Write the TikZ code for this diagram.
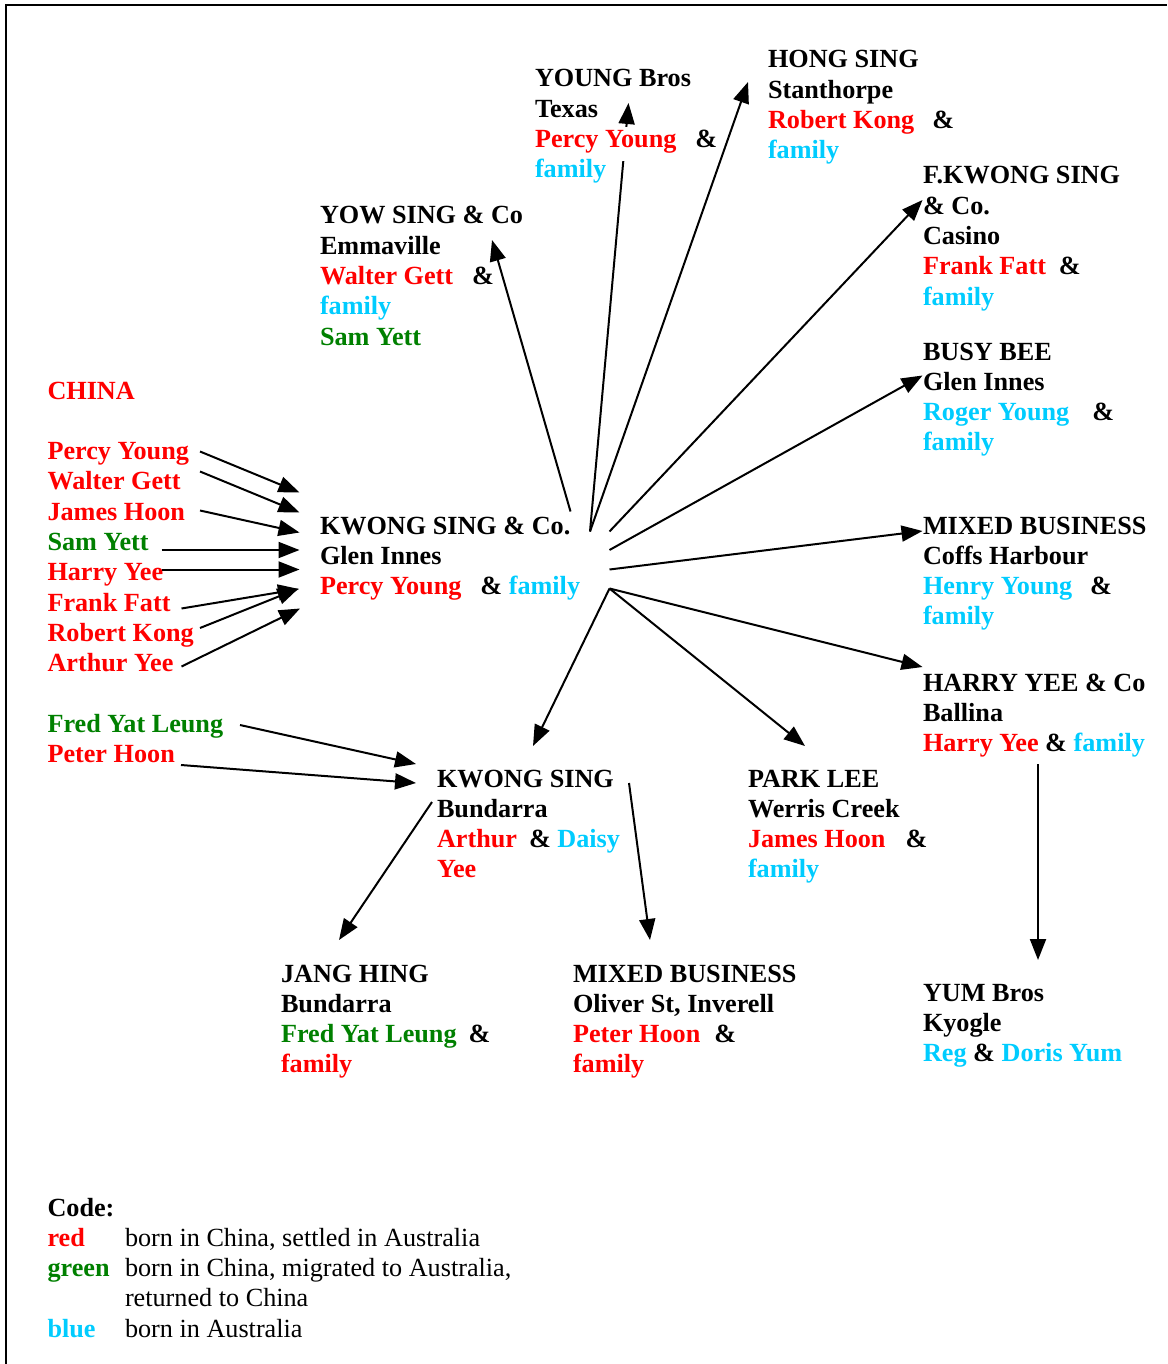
\documentclass[tikz,border=0pt]{standalone}
\usepackage{fontspec}
\setmainfont{Liberation Serif}
\usetikzlibrary{arrows.meta}
\definecolor{cr}{HTML}{FF0000}
\definecolor{cg}{HTML}{008000}
\definecolor{cb}{HTML}{00CCFF}
\newcommand{\R}[1]{\textcolor{cr}{#1}}
\newcommand{\G}[1]{\textcolor{cg}{#1}}
\newcommand{\B}[1]{\textcolor{cb}{#1}}
\newcommand{\gap}[1]{\hspace*{#1pt}}
\begin{document}
\begin{tikzpicture}[x=1pt,y=-1pt,
  txt/.style={anchor=base west, inner sep=0pt, outer sep=0pt,
    font=\bfseries\fontsize{26.2}{30.3}\selectfont},
  arr/.style={line width=2pt, -{Triangle[length=21pt,width=16pt]}},
  frame/.style={line width=2pt}]
\useasboundingbox (0,0) rectangle (1167,1364);
\draw[frame] (6,1364) -- (6,5) -- (1167,5);

% arrow end points
\coordinate (pyS) at (200,451.5);  \coordinate (pyT) at (299.5,492.5);
\coordinate (wgS) at (200,471.5);  \coordinate (wgT) at (299.5,512.5);
\coordinate (jhS) at (200,510.5);  \coordinate (jhT) at (299.5,532.5);
\coordinate (syS) at (161.5,550);  \coordinate (syT) at (299.5,550);
\coordinate (hyS) at (161.5,569.5);\coordinate (hyT) at (299.5,569.5);
\coordinate (ffS) at (181.5,608.5);\coordinate (ffT) at (299,589);
\coordinate (rkS) at (200,628);    \coordinate (rkT) at (298.5,588.5);
\coordinate (ayS) at (181.5,666.5);\coordinate (ayT) at (300,608.5);
\coordinate (fyS) at (240,725);    \coordinate (fyT) at (416,764);
\coordinate (phS) at (181,765);    \coordinate (phT) at (416,783);

\coordinate (hubA) at (570.5,511.5);
\coordinate (hubB) at (590,531.5);
\coordinate (hubC) at (609.5,531.5);
\coordinate (hubD) at (609.5,550);
\coordinate (hubE) at (609.5,569.5);
\coordinate (hubF) at (609.5,588.5);

\coordinate (yowT) at (492,240);
\coordinate (youngT) at (628.5,103);
\coordinate (hongT) at (748,82);
\coordinate (fkT) at (922.5,200);
\coordinate (bbT) at (922.5,375.5);
\coordinate (mcT) at (922.5,531);
\coordinate (hyeeT) at (922.5,667);
\coordinate (plT) at (805,746);
\coordinate (bdT) at (533,746);

\coordinate (bdA) at (432,802);  \coordinate (jhgT) at (339,940);
\coordinate (bdB) at (629,783);  \coordinate (moT) at (650,940);
\coordinate (hyeeS) at (1038,764); \coordinate (yumT) at (1038,960);

% arrows (drawn below the text)
\draw[arr] (pyS) -- (pyT);
\draw[arr] (wgS) -- (wgT);
\draw[arr] (jhS) -- (jhT);
\draw[arr] (syS) -- (syT);
\draw[arr] (ffS) -- (ffT);
\draw[arr] (rkS) -- (rkT);
\draw[arr] (ayS) -- (ayT);
\draw[arr] (fyS) -- (fyT);
\draw[arr] (phS) -- (phT);

\draw[arr] (hubA) -- (yowT);
\draw[arr] (hubB) -- (youngT);
\draw[arr] (hubB) -- (hongT);
\draw[arr] (hubC) -- (fkT);
\draw[arr] (hubD) -- (bbT);
\draw[arr] (hubE) -- (mcT);
\draw[arr] (hubF) -- (hyeeT);
\draw[arr] (hubF) -- (plT);
\draw[arr] (hubF) -- (bdT);

\draw[arr] (bdA) -- (jhgT);
\draw[arr] (bdB) -- (moT);
\draw[arr] (hyeeS) -- (yumT);

% opaque text line of the YOUNG Bros box
\fill[white] (612,127) rectangle (645,161);

% text blocks
\node[txt] (china) at (47.5,399) {\R{CHINA}};
\node[txt] (leftlist) at (47.5,459.5) {\begin{tabular}[t]{@{}l@{}}
\R{Percy Young}\\ \R{Walter Gett}\\ \R{James Hoon}\\ \G{Sam Yett}\\
\R{Harry Yee}\\ \R{Frank Fatt}\\ \R{Robert Kong}\\ \R{Arthur Yee}\end{tabular}};
\node[txt] (fredpeter) at (47.5,732) {\begin{tabular}[t]{@{}l@{}}
\G{Fred Yat Leung}\\ \R{Peter Hoon}\end{tabular}};

\node[txt] (youngbros) at (535,87) {\begin{tabular}[t]{@{}l@{}}
YOUNG Bros\\ Texas\\ \R{Percy Young}\gap{19}\&\\ \B{family}\end{tabular}};
\node[txt] (hongsing) at (768,68) {\begin{tabular}[t]{@{}l@{}}
HONG SING\\ Stanthorpe\\ \R{Robert Kong}\gap{18}\&\\ \B{family}\end{tabular}};
\node[txt] (yowsing) at (320,224) {\begin{tabular}[t]{@{}l@{}}
YOW SING \& Co\\ Emmaville\\ \R{Walter Gett}\gap{19}\&\\ \B{family}\\ \G{Sam Yett}\end{tabular}};
\node[txt] (fkwong) at (923,184) {\begin{tabular}[t]{@{}l@{}}
F.KWONG SING\\ \& Co.\\ Casino\\ \R{Frank Fatt}\gap{13}\&\\ \B{family}\end{tabular}};
\node[txt] (busybee) at (923,360) {\begin{tabular}[t]{@{}l@{}}
BUSY BEE\\ Glen Innes\\ \B{Roger Young}\gap{23}\&\\ \B{family}\end{tabular}};
\node[txt] (kwongglen) at (320,534) {\begin{tabular}[t]{@{}l@{}}
KWONG SING \& Co.\\ Glen Innes\\ \R{Percy Young}\gap{19}\& \B{family}\end{tabular}};
\node[txt] (mixedcoffs) at (923,534) {\begin{tabular}[t]{@{}l@{}}
MIXED BUSINESS\\ Coffs Harbour\\ \B{Henry Young}\gap{18}\&\\ \B{family}\end{tabular}};
\node[txt] (harryyee) at (923,691) {\begin{tabular}[t]{@{}l@{}}
HARRY YEE \& Co\\ Ballina\\ \R{Harry Yee} \& \B{family}\end{tabular}};
\node[txt] (bundarra) at (437,787) {\begin{tabular}[t]{@{}l@{}}
KWONG SING\\ Bundarra\\ \R{Arthur}\gap{12}\& \B{Daisy}\\ \R{Yee}\end{tabular}};
\node[txt] (parklee) at (748,787) {\begin{tabular}[t]{@{}l@{}}
PARK LEE\\ Werris Creek\\ \R{James Hoon}\gap{20}\&\\ \B{family}\end{tabular}};
\node[txt] (janghing) at (281,982) {\begin{tabular}[t]{@{}l@{}}
JANG HING\\ Bundarra\\ \G{Fred Yat Leung}\gap{12}\&\\ \R{family}\end{tabular}};
\node[txt] (mixedoliver) at (573,982) {\begin{tabular}[t]{@{}l@{}}
MIXED BUSINESS\\ Oliver St, Inverell\\ \R{Peter Hoon}\gap{14}\&\\ \R{family}\end{tabular}};
\node[txt] (yum) at (923,1001) {\begin{tabular}[t]{@{}l@{}}
YUM Bros\\ Kyogle\\ \B{Reg} \& \B{Doris Yum}\end{tabular}};

\node[txt] (legend) at (47.5,1216) {\begin{tabular}[t]{@{}p{77.5pt}@{}l@{}}
Code: & \\
\R{red} & \mdseries born in China, settled in Australia\\
\G{green} & \mdseries born in China, migrated to Australia,\\
 & \mdseries returned to China\\
\B{blue} & \mdseries born in Australia\end{tabular}};

% this arrow runs over its text in the original
\draw[arr] (hyS) -- (hyT);
\end{tikzpicture}
\end{document}
